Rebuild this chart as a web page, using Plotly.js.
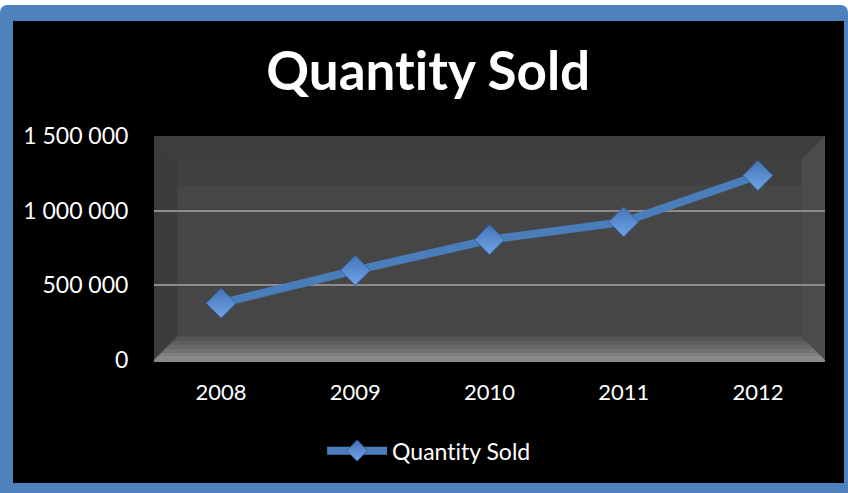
<!DOCTYPE html>
<html>
<head>
<meta charset="utf-8">
<script src="https://cdn.plot.ly/plotly-3.0.1.min.js"></script>
<style>
  html, body { margin:0; padding:0; background:#ffffff; width:848px; height:493px; overflow:hidden; }
  #frame { position:absolute; left:0; top:5px; width:848px; height:488px; box-sizing:border-box;
           background:#000; border-style:solid; border-color:#4f81bd; border-width:16px 4px 10px 13px;
           border-radius:7px 7px 0 0; }
  #chart { position:absolute; left:0; top:0; width:848px; height:493px; }
  #chart text { font-variant-ligatures: none; font-feature-settings: "liga" 0; }
</style>
</head>
<body>
<div id="frame"></div>
<div id="chart"></div>
<script>
const years = ['2008', '2009', '2010', '2011', '2012'];
const quantitySold = [380000, 600000, 805000, 925000, 1235000];
const yTickVals = [0, 500000, 1000000, 1500000];
const yTickText = ['0', '500 000', '1 000 000', '1 500 000'];
const seriesName = 'Quantity Sold';
const chartTitle = 'Quantity Sold';

const fontFam = 'Lato, "Open Sans", sans-serif';
const ix = 0.035, iy = 0.105; // bevel insets (paper fractions)

const shapes = [];
// inner panel
shapes.push({type:'rect', xref:'paper', yref:'paper', x0:0, x1:1, y0:0, y1:1, fillcolor:'#464646', line:{width:0}, layer:'below'});
// top bevel (darker)
shapes.push({type:'path', xref:'paper', yref:'paper', layer:'below', line:{width:0}, fillcolor:'#3e3e3e',
  path:`M0,1 L1,1 L${1-ix},${1-iy} L${ix},${1-iy} Z`});
// left bevel
shapes.push({type:'path', xref:'paper', yref:'paper', layer:'below', line:{width:0}, fillcolor:'#3c3c3c',
  path:`M0,0 L0,1 L${ix},${1-iy} L${ix},${iy} Z`});
// right bevel
shapes.push({type:'path', xref:'paper', yref:'paper', layer:'below', line:{width:0}, fillcolor:'#4b4b4b',
  path:`M1,0 L1,1 L${1-ix},${1-iy} L${1-ix},${iy} Z`});
// bottom bevel (lighter gradient in strips)
const bot = ['#555555', '#5e5e5e', '#686868', '#737373', '#7e7e7e', '#888888'];
for (let i = 0; i < bot.length; i++) {
  const yt = iy * (1 - i / bot.length), yb = iy * (1 - (i + 1) / bot.length);
  const xt = ix * (1 - i / bot.length), xb = ix * (1 - (i + 1) / bot.length);
  shapes.push({type:'path', xref:'paper', yref:'paper', layer:'below', line:{width:0}, fillcolor:bot[i],
    path:`M${xb},${yb} L${1-xb},${yb} L${1-xt},${yt} L${xt},${yt} Z`});
}
// darker band just below top bevel
shapes.push({type:'rect', xref:'paper', yref:'paper', layer:'below', line:{width:0}, fillcolor:'rgba(0,0,0,0.08)',
  x0:ix, x1:1-ix, y0:0.78, y1:1-iy});

const trace = {
  x: years, y: quantitySold, name: seriesName, type:'scatter', mode:'lines+markers',
  line:{color:'#4a7ebb', width:8},
  marker:{symbol:'diamond', size:23, color:'#4275b8',
          gradient:{type:'vertical', color:'#72a3e6'},
          line:{color:'#33629c', width:1}}
};

const layout = {
  width:848, height:493,
  margin:{l:154, r:23, t:136, b:133},
  paper_bgcolor:'rgba(0,0,0,0)', plot_bgcolor:'rgba(0,0,0,0)',
  font:{family:fontFam, color:'#ffffff', size:23},
  title:{text:chartTitle, font:{family:fontFam, size:53, color:'#ffffff', weight:'bold'},
         x:0.505, xanchor:'center', y:0.855, yanchor:'middle', xref:'container', yref:'container'},
  xaxis:{type:'category', range:[-0.5, 4.5], showgrid:false, zeroline:false, showline:true, linecolor:'#8a8a8a', linewidth:2,
         ticks:'outside', ticklen:12, tickcolor:'rgba(0,0,0,0)', tickfont:{size:22, color:'#ffffff'}},
  yaxis:{range:[0,1500000], tickvals:yTickVals, ticktext:yTickText, showgrid:true, gridcolor:'#8c8c8c', gridwidth:2,
         zeroline:false, showline:false, ticks:'outside', ticklen:20, tickcolor:'rgba(0,0,0,0)',
         tickfont:{size:23, color:'#ffffff'}},
  showlegend:true,
  legend:{orientation:'h', x:0.41, xanchor:'center', y:-0.405, yanchor:'middle',
          font:{size:23, color:'#ffffff'}, itemwidth:60, bgcolor:'rgba(0,0,0,0)'},
  shapes: shapes
};

Plotly.newPlot('chart', [trace], layout, {displayModeBar:false, staticPlot:true});
</script>
</body>
</html>
